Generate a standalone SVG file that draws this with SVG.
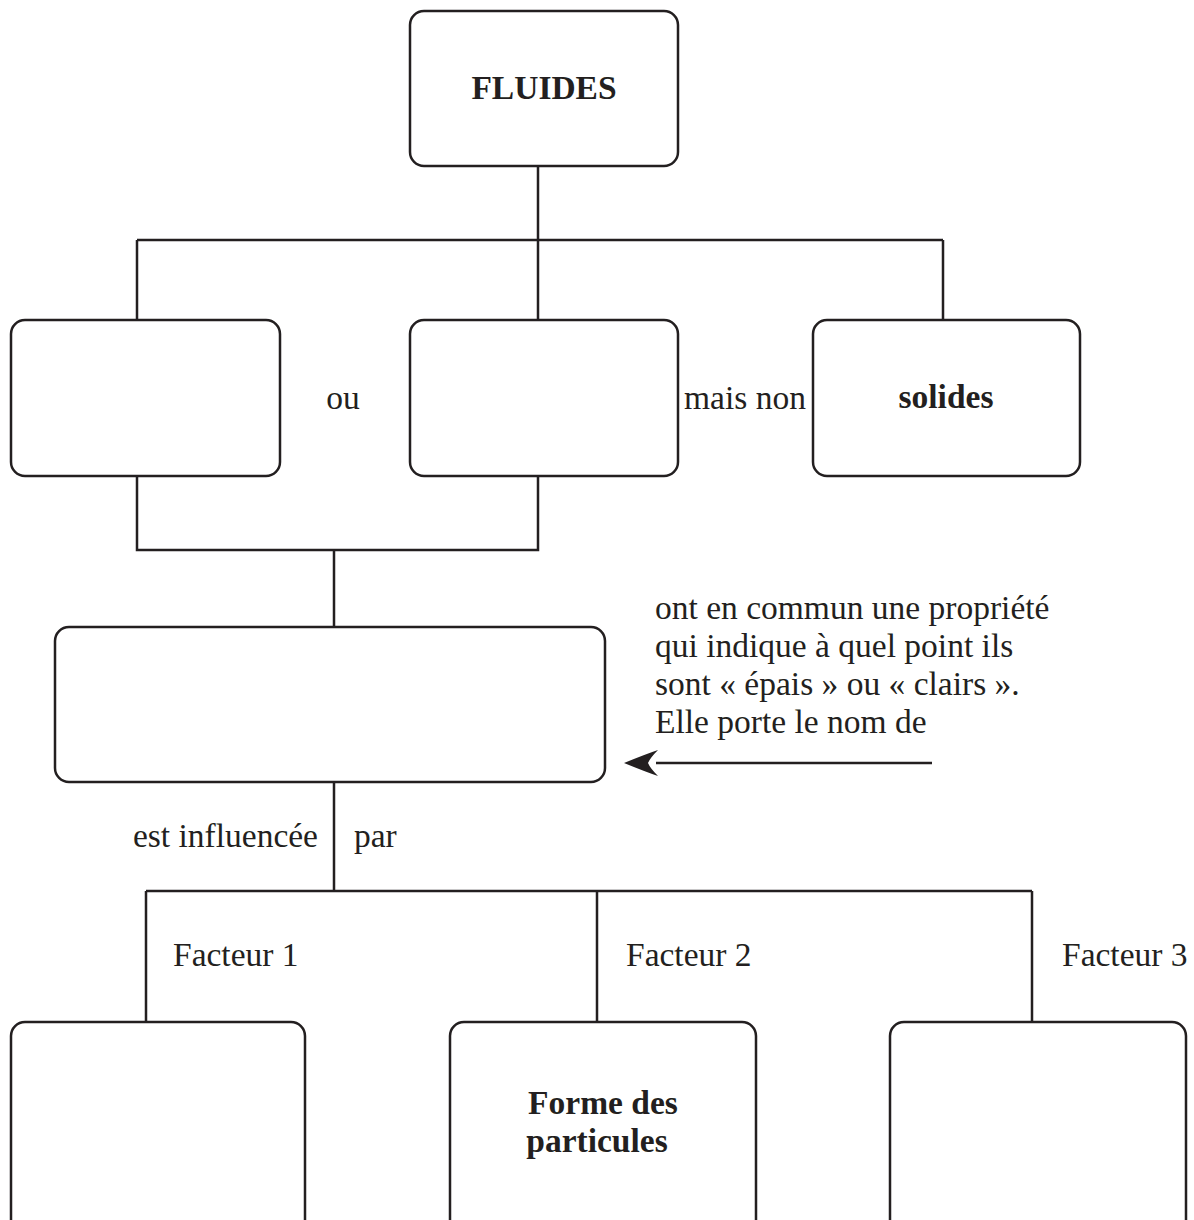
<svg xmlns="http://www.w3.org/2000/svg" width="1194" height="1220" viewBox="0 0 1194 1220">
<style>
.box{fill:#fff;stroke:#231f20;stroke-width:2.5}
.ln{fill:none;stroke:#231f20;stroke-width:2.5}
text{font-family:"Liberation Serif","DejaVu Serif",serif;font-size:33.5px;fill:#231f20}
.b{font-weight:bold}
</style>
<defs>
<marker id="ah" viewBox="0 0 34 26" refX="2" refY="13" markerWidth="34" markerHeight="26" markerUnits="userSpaceOnUse" orient="auto-start-reverse">
<path d="M34,13 Q12,4 0,0 Q8,8 10,13 Q8,18 0,26 Q12,22 34,13 Z" fill="#231f20"/>
</marker>
</defs>
<g id="connectors">
<path class="ln" d="M538,166 V240 M137,240 H943 M137,240 V320 M538,240 V320 M943,240 V320"/>
<path class="ln" d="M137,476 V550 H538 V476 M334,550 V627"/>
<path class="ln" d="M334,782 V891 M146,891 H1032 M146,891 V1022 M597,891 V1022 M1032,891 V1022"/>
<line class="ln" x1="932" y1="763" x2="656" y2="763" marker-end="url(#ah)"/>
</g>
<g id="fluides"><rect class="box" x="410" y="11" width="268" height="155" rx="14"/><text class="b" x="544" y="99" text-anchor="middle">FLUIDES</text></g>
<g id="box-left"><rect class="box" x="11" y="320" width="269" height="156" rx="14"/></g>
<g id="label-ou"><text x="343" y="409" text-anchor="middle">ou</text></g>
<g id="box-mid"><rect class="box" x="410" y="320" width="268" height="156" rx="14"/></g>
<g id="label-maisnon"><text x="684" y="409">mais non</text></g>
<g id="solides"><rect class="box" x="813" y="320" width="267" height="156" rx="14"/><text class="b" x="946" y="408" text-anchor="middle">solides</text></g>
<g id="box-prop"><rect class="box" x="55" y="627" width="550" height="155" rx="14"/></g>
<g id="text-prop">
<text x="655" y="619">ont en commun une propriété</text>
<text x="655" y="657">qui indique à quel point ils</text>
<text x="655" y="695">sont « épais » ou « clairs ».</text>
<text x="655" y="733">Elle porte le nom de</text>
</g>
<g id="label-infl"><text x="318" y="847" text-anchor="end">est influencée</text><text x="354" y="847">par</text></g>
<g id="f1"><text x="173" y="966">Facteur 1</text><rect class="box" x="11" y="1022" width="294" height="220" rx="14"/></g>
<g id="f2"><text x="626" y="966">Facteur 2</text><rect class="box" x="450" y="1022" width="306" height="220" rx="14"/><text class="b" x="603" y="1114" text-anchor="middle">Forme des</text><text class="b" x="597" y="1152" text-anchor="middle">particules</text></g>
<g id="f3"><text x="1062" y="966">Facteur 3</text><rect class="box" x="890" y="1022" width="296" height="220" rx="14"/></g>
</svg>
